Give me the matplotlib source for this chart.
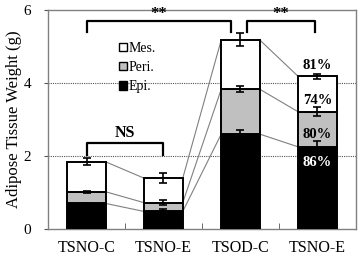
import matplotlib
matplotlib.use("Agg")
import matplotlib.pyplot as plt
from matplotlib.patches import Patch
import numpy as np

categories = ["TSNO-C", "TSNO-E", "TSOD-C", "TSNO-E"]
epi = [0.70, 0.48, 2.60, 2.25]
peri = [0.32, 0.24, 1.23, 0.96]
mes = [0.82, 0.67, 1.35, 0.97]
epi_err = [0.02, 0.08, 0.12, 0.16]
peri_err = [0.03, 0.07, 0.08, 0.12]
mes_err = [0.10, 0.14, 0.18, 0.07]
pct_labels = ["81%", "74%", "80%", "86%"]
yticks = [0, 2, 4, 6]

plt.rcParams['font.family'] = ['Liberation Serif', 'DejaVu Serif']

fig = plt.figure(figsize=(3.61, 2.59), dpi=100)
ax = fig.add_axes([0.1330, 0.1158, 0.8530, 0.8456])

x = np.arange(len(categories)) + 0.5
w = 0.5
epi = np.array(epi); peri = np.array(peri); mes = np.array(mes)
peri_top = epi + peri
tot = peri_top + mes

ax.bar(x, epi, w, color='black', edgecolor='black', linewidth=1.4, zorder=3)
ax.bar(x, peri, w, bottom=epi, color='#c0c0c0', edgecolor='black', linewidth=1.4, zorder=3)
ax.bar(x, mes, w, bottom=peri_top, color='white', edgecolor='black', linewidth=1.4, zorder=3)

ekw = dict(fmt='none', ecolor='black', elinewidth=1.2, capsize=3, capthick=1.2, zorder=4)
ax.errorbar(x, epi, yerr=epi_err, **ekw)
ax.errorbar(x, peri_top, yerr=peri_err, **ekw)
ax.errorbar(x, tot, yerr=mes_err, **ekw)

# connecting lines
for i in range(len(x) - 1):
    for lv in (epi, peri_top, tot):
        ax.plot([x[i] + w / 2, x[i + 1] - w / 2], [lv[i], lv[i + 1]], color='#808080', lw=0.8, zorder=2)

for g in (2, 4):
    ax.axhline(g, color='#555555', lw=0.8, ls=(0, (1, 1)), zorder=1)

# brackets
def bracket(x0, x1, ytop, ybot, text, ty, fs, weight='normal'):
    ax.plot([x0, x0, x1, x1], [ybot, ytop, ytop, ybot], color='black', lw=1.6, zorder=5, clip_on=False)
    ax.text((x0 + x1) / 2, ty, text, ha='center', va='center', fontsize=fs, fontweight=weight)

bracket(x[0], 2.38, 5.71, 5.40, "**", 5.88, 12, 'bold')
bracket(2.58, 3.47, 5.71, 5.40, "**", 5.88, 12, 'bold')
bracket(x[0], x[1] - 0.01, 2.35, 2.03, "NS", 2.63, 11.5, 'bold')

# percentages
pct_y = [4.47, 3.53, 2.60, 1.81]
pct_c = ['black', 'black', 'black', 'white']
for s, yy, c in zip(pct_labels, pct_y, pct_c):
    ax.text(x[3], yy, s, ha='center', va='center', fontsize=10.5, fontweight='bold', color=c, zorder=6)

ax.set_xlim(0, 4)
ax.set_ylim(0, 6)
ax.set_yticks(yticks)
ax.set_xticks(x)
ax.set_xticklabels(categories, fontsize=11.5)
ax.set_xticks([1, 2, 3], minor=True)
ax.tick_params(axis='x', which='major', length=0, pad=8)
ax.tick_params(axis='x', which='minor', direction='in', length=4, color='#555555')
ax.tick_params(axis='y', direction='out', length=3, labelsize=11, pad=9, color='#555555')
for sp in ax.spines.values():
    sp.set_color('#808080')
    sp.set_linewidth(1.0)
ax.set_ylabel("Adipose Tissue Weight (g)", fontsize=12, labelpad=1)

handles = [Patch(facecolor='white', edgecolor='black', label='Mes.'),
           Patch(facecolor='#c0c0c0', edgecolor='black', label='Peri.'),
           Patch(facecolor='black', edgecolor='black', label='Epi.')]
ax.legend(handles=handles, loc='upper left', bbox_to_anchor=(0.232, 0.855), frameon=False,
          fontsize=10, handlelength=0.55, handleheight=0.55, handletextpad=0.1, labelspacing=0.45,
          borderaxespad=0, borderpad=0)

fig.savefig("out.png", dpi=100)
